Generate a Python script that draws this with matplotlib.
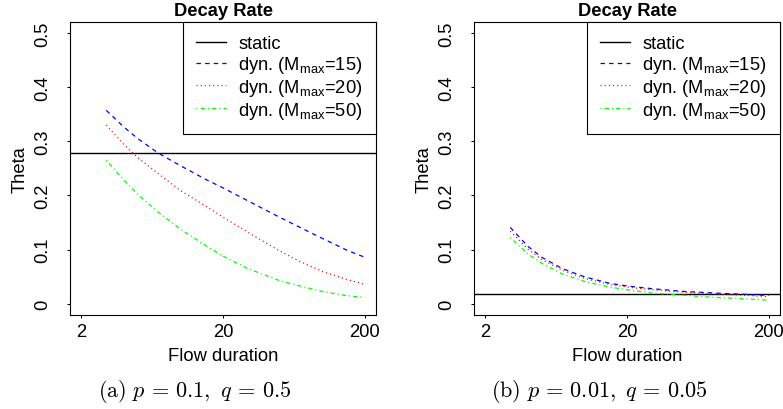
import numpy as np
import matplotlib
matplotlib.use("Agg")
import matplotlib.pyplot as plt
from matplotlib.font_manager import FontProperties

plt.rcParams['font.family'] = ['Liberation Sans', 'DejaVu Sans']
plt.rcParams['mathtext.fontset'] = 'custom'
plt.rcParams['mathtext.rm'] = 'Liberation Sans'
plt.rcParams['mathtext.it'] = 'Liberation Sans:italic'
plt.rcParams['lines.scale_dashes'] = False

# data
flow = [3, 4, 5, 7, 10, 15, 20, 30, 50, 70, 100, 150, 200]

# panel (a): p = 0.1, q = 0.5
static_a = 0.278
dyn15_a = [0.357, 0.326, 0.305, 0.278, 0.255, 0.230, 0.214, 0.190, 0.160, 0.141, 0.121, 0.099, 0.086]
dyn20_a = [0.330, 0.294, 0.270, 0.240, 0.209, 0.181, 0.160, 0.132, 0.098, 0.078, 0.060, 0.045, 0.036]
dyn50_a = [0.265, 0.228, 0.202, 0.169, 0.138, 0.108, 0.088, 0.065, 0.043, 0.033, 0.023, 0.015, 0.012]

# panel (b): p = 0.01, q = 0.05
static_b = 0.019
dyn15_b = [0.141, 0.106, 0.086, 0.065, 0.050, 0.038, 0.033, 0.028, 0.023, 0.021, 0.019, 0.017, 0.0155]
dyn20_b = [0.134, 0.101, 0.082, 0.062, 0.047, 0.036, 0.031, 0.026, 0.0215, 0.019, 0.0172, 0.0152, 0.013]
dyn50_b = [0.122, 0.092, 0.075, 0.055, 0.0415, 0.031, 0.026, 0.020, 0.016, 0.013, 0.011, 0.0087, 0.0068]

labels = ['static', r'dyn. (M$_{\mathrm{max}}$=15)',
          r'dyn. (M$_{\mathrm{max}}$=20)', r'dyn. (M$_{\mathrm{max}}$=50)']
xticks = [2, 20, 200]
yticks = [0, 0.1, 0.2, 0.3, 0.4, 0.5]
ytick_labels = ['0', '0.1', '0.2', '0.3', '0.4', '0.5']
captions = [r'$\mathrm{(a)}\ p\,=\,0.1,\ q\,=\,0.5$',
            r'$\mathrm{(b)}\ p\,=\,0.01,\ q\,=\,0.05$']

FS = 13.2
W, H = 783, 410

fig = plt.figure(figsize=(W / 100, H / 100), dpi=100)


def px_axes(x0, y0, x1, y1):
    return fig.add_axes([x0 / W, 1 - y1 / H, (x1 - x0) / W, (y1 - y0) / H])


def panel(ax, static, d15, d20, d50):
    ax.axhline(static, color='black', lw=1.0, label=labels[0])
    ax.plot(flow, d15, color='#0000ff', lw=0.9, ls=(0, (3.2, 3.0)), label=labels[1])
    ax.plot(flow, d20, color='#ff0000', lw=0.9, ls=(0, (0.8, 2.2)), label=labels[2])
    ax.plot(flow, d50, color='#00ff00', lw=0.9, ls=(0, (0.8, 2.2, 3.0, 2.2)), label=labels[3])

    ax.set_xscale('log')
    lo, hi = np.log10(2), np.log10(200)
    pad = 0.04 * (hi - lo)
    ax.set_xlim(10 ** (lo - pad), 10 ** (hi + pad))
    ax.set_ylim(-0.02, 0.52)
    ax.set_xticks(xticks)
    ax.set_xticklabels([str(t) for t in xticks])
    ax.xaxis.set_minor_locator(matplotlib.ticker.NullLocator())
    ax.set_yticks(yticks)
    ax.set_yticklabels(ytick_labels, rotation=90, va='center')

    ax.tick_params(axis='both', direction='out', length=2.3, width=0.75, labelsize=FS)
    ax.tick_params(axis='x', pad=4.0)
    ax.tick_params(axis='y', pad=11.0)
    for s in ax.spines.values():
        s.set_linewidth(0.8)
        s.set_color('black')

    ax.set_title('Decay Rate', fontsize=FS, fontweight='bold', pad=5.3)
    ax.set_xlabel('Flow duration', fontsize=FS)
    ax.set_ylabel('Theta', fontsize=FS)
    ax.xaxis.set_label_coords(0.5, -0.111)
    ax.yaxis.set_label_coords(-0.134, 0.5)

    leg = ax.legend(loc='upper right', borderaxespad=0, fancybox=False,
                    framealpha=1, edgecolor='black',
                    prop=FontProperties(size=FS), handlelength=1.64,
                    handletextpad=0.65, labelspacing=0.1, borderpad=0.72)
    leg.get_frame().set_linewidth(0.8)


ax1 = px_axes(70, 23, 376, 315.7)
panel(ax1, static_a, dyn15_a, dyn20_a, dyn50_a)
ax2 = px_axes(474, 23, 780, 315.7)
panel(ax2, static_b, dyn15_b, dyn20_b, dyn50_b)

fig.text(194.5 / W, 1 - 392 / H, captions[0], ha='center', va='center',
         fontsize=16, math_fontfamily='cm')
fig.text(599 / W, 1 - 392 / H, captions[1], ha='center', va='center',
         fontsize=16, math_fontfamily='cm')

fig.savefig('out.png', dpi=100)
